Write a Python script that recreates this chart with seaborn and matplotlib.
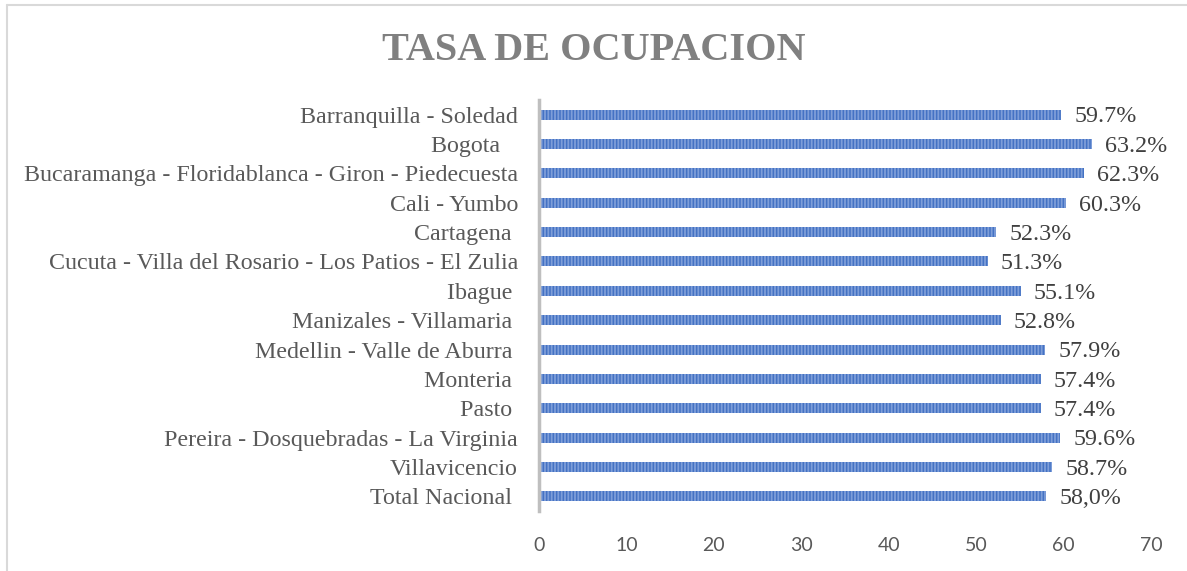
import numpy as np
import pandas as pd
import matplotlib
matplotlib.use("Agg")
import matplotlib.pyplot as plt
import seaborn as sns
from matplotlib.lines import Line2D

ciudades = [
    "Barranquilla - Soledad",
    "Bogota   ",
    "Bucaramanga - Floridablanca - Giron - Piedecuesta",
    "Cali - Yumbo",
    "Cartagena ",
    "Cucuta - Villa del Rosario - Los Patios - El Zulia",
    "Ibague ",
    "Manizales - Villamaria ",
    "Medellin - Valle de Aburra ",
    "Monteria ",
    "Pasto ",
    "Pereira - Dosquebradas - La Virginia",
    "Villavicencio",
    "Total Nacional ",
]
tasa = [59.7, 63.2, 62.3, 60.3, 52.3, 51.3, 55.1, 52.8, 57.9, 57.4, 57.4, 59.6, 58.7, 58.0]
etiquetas = ["59.7%", "63.2%", "62.3%", "60.3%", "52.3%", "51.3%", "55.1%", "52.8%",
             "57.9%", "57.4%", "57.4%", "59.6%", "58.7%", "58,0%"]
ticks_x = [0, 10, 20, 30, 40, 50, 60, 70]

df = pd.DataFrame({"ciudad": ciudades, "tasa": tasa})

sns.set_theme(style="white")
plt.rcParams["hatch.linewidth"] = 1.3
plt.rcParams["hatch.color"] = "#7e9ed9"

fig = plt.figure(figsize=(11.87, 5.71), dpi=100)
ax = fig.add_axes([0.454, 0.105, 0.5157, 0.72])

sns.barplot(data=df, x="tasa", y="ciudad", orient="h", color="#4472C4",
            saturation=1, width=0.34, ax=ax)
for p in ax.patches:
    p.set_hatch("|||||")
    p.set_edgecolor("#7e9ed9")
    p.set_linewidth(0)

for i, (v, lab) in enumerate(zip(tasa, etiquetas)):
    ax.text(v + 1.5, i + 0.08, lab, va="center", ha="left",
            fontsize=17.3, family="Liberation Serif", color="#404040")

ax.set_xlim(0, 70)
ax.set_ylim(13.5, -0.5)
ax.set_xticks(ticks_x)
ax.set_xticklabels([str(t) for t in ticks_x], family="Lato", fontsize=14, color="#595959")
ax.set_yticks(range(len(ciudades)))
ax.set_yticklabels(ciudades, family="Liberation Serif", fontsize=17.3, color="#595959")
ax.tick_params(axis="x", length=0, pad=19)
ax.tick_params(axis="y", length=0, pad=15)
ax.set_xlabel("")
ax.set_ylabel("")
for s in ["top", "right", "bottom"]:
    ax.spines[s].set_visible(False)
ax.spines["left"].set_color("#bfbfbf")
ax.spines["left"].set_linewidth(2.5)

fig.text(0.5, 0.912, "TASA DE OCUPACION", ha="center", va="center",
         fontsize=29, fontweight="bold", family="Liberation Serif", color="#808080")

# marco del grafico (solo borde superior e izquierdo visibles)
fig.add_artist(Line2D([6.5 / 1187, 6.5 / 1187], [0, 1 - 4.5 / 571],
                      transform=fig.transFigure, color="#d9d9d9", lw=1.5))
fig.add_artist(Line2D([6.5 / 1187, 1], [1 - 4.5 / 571, 1 - 4.5 / 571],
                      transform=fig.transFigure, color="#d9d9d9", lw=1.5))

fig.savefig("out.png", dpi=100)
